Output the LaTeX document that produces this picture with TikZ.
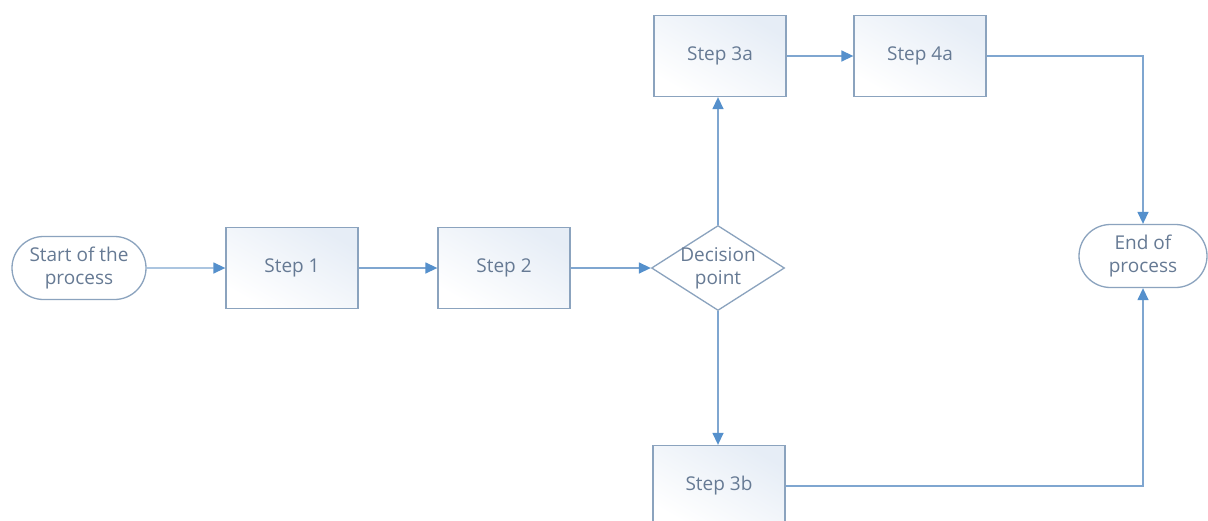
\documentclass[tikz,border=0pt]{standalone}
\usepackage{fontspec}
\setmainfont{Open Sans}
\usetikzlibrary{shapes.geometric,shapes.misc,arrows.meta}
\definecolor{edgeline}{HTML}{7FA6D0}
\definecolor{tipfill}{HTML}{5590CC}
\definecolor{boxline}{HTML}{8BA3BE}
\definecolor{boxtint}{HTML}{E6EDF6}
\definecolor{labeltext}{HTML}{667A94}
\tikzset{
  labelfont/.style={text=labeltext, font=\fontsize{19}{23}\selectfont},
  stepbox/.style={rectangle, draw=boxline, line width=1.3pt,
    shading=axis, top color=boxtint, bottom color=white, shading angle=-30,
    minimum width=132pt, minimum height=81pt, inner sep=0pt, labelfont},
  terminal/.style={rounded rectangle, draw=boxline, line width=1.3pt,
    fill=white, minimum width=134pt, minimum height=63pt, inner sep=0pt,
    align=center, labelfont},
  decision/.style={diamond, draw=boxline, line width=1.3pt, fill=white,
    minimum width=133pt, minimum height=85pt, aspect=1.6, inner sep=-10pt,
    align=center, labelfont},
  flow/.style={draw=edgeline, line width=1.4pt,
    -{Triangle[length=12pt,width=11pt,fill=tipfill,color=tipfill]}}
}
\begin{document}
\begin{tikzpicture}[x=1pt,y=-1pt]
  \useasboundingbox (0,0) rectangle (1208,520);
  \fill[white] (0,0) rectangle (1208,520);
  \clip (0,0) rectangle (1208,520);

  % nodes
  \node[terminal] (start) at (79,268) {Start of the\\process};
  \node[stepbox] (s1) at (292,268) {Step 1};
  \node[stepbox] (s2) at (504,268) {Step 2};
  \node[decision] (dec) at (718,268) {Decision\\point};
  \node[stepbox] (s3a) at (720,56) {Step 3a};
  \node[stepbox] (s4a) at (920,56) {Step 4a};
  \node[stepbox] (s3b) at (719,486) {Step 3b};
  \node[terminal, minimum width=128pt] (end) at (1143,256) {End of\\process};

  % connectors
  \draw[flow] (start) -- (s1);
  \draw[flow] (s1) -- (s2);
  \draw[flow] (s2) -- (dec);
  \draw[flow] (dec.north) -- (s3a.south -| dec.north);
  \draw[flow] (dec.south) -- (s3b.north -| dec.south);
  \draw[flow] (s3a) -- (s4a);
  \draw[flow] (s4a.east) -| (end.north);
  \draw[flow] (s3b.east) -| (end.south);
\end{tikzpicture}
\end{document}
